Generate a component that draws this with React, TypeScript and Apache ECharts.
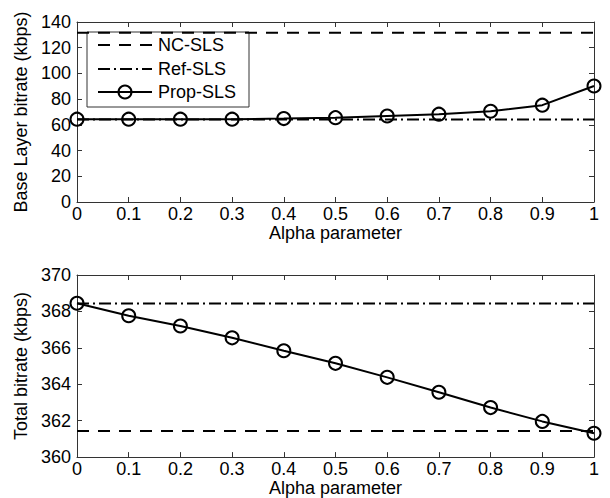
import React, { useEffect, useRef } from "react";
import * as echarts from "echarts";

const alphas = [0, 0.1, 0.2, 0.3, 0.4, 0.5, 0.6, 0.7, 0.8, 0.9, 1];
const propBase = [64.4, 64.4, 64.4, 64.4, 64.9, 65.6, 66.9, 68.3, 70.6, 75.3, 90.2];
const propTotal = [368.45, 367.76, 367.2, 366.55, 365.84, 365.15, 364.38, 363.56, 362.72, 361.96, 361.31];
const ncBase = 131.6;
const refBase = 64.2;
const ncTotal = 361.43;
const refTotal = 368.44;
const legendNames = ["NC-SLS", "Ref-SLS", "Prop-SLS"];

const FONT = "'Liberation Sans', Arial, Helvetica, sans-serif";
const AX = "#333";
const DASH = [12, 9];
const DASHDOT = [12, 4, 2, 4];

const fmtX = (v: number) => String(Math.round(v * 10) / 10);

function xAxes(gridIndex: number) {
  const base = {
    type: "value",
    gridIndex,
    min: 0,
    max: 1,
    interval: 0.1,
    splitLine: { show: false },
    axisLine: { show: true, onZero: false, lineStyle: { color: AX, width: 1 } },
    axisTick: { show: true, inside: true, length: 5, lineStyle: { color: AX } },
  };
  return [
    {
      ...base,
      position: "bottom",
      name: "Alpha parameter",
      nameLocation: "middle",
      nameGap: 19,
      nameTextStyle: { color: "#000", fontSize: 18, fontFamily: FONT },
      axisLabel: { color: "#000", fontSize: 18, fontFamily: FONT, margin: 3, formatter: fmtX },
    },
    { ...base, position: "top", axisLabel: { show: false } },
  ];
}

function yAxes(gridIndex: number, min: number, max: number, interval: number, name: string) {
  const base = {
    type: "value",
    gridIndex,
    min,
    max,
    interval,
    splitLine: { show: false },
    axisLine: { show: true, onZero: false, lineStyle: { color: AX, width: 1 } },
    axisTick: { show: true, inside: true, length: 5, lineStyle: { color: AX } },
  };
  return [
    {
      ...base,
      position: "left",
      name,
      nameLocation: "middle",
      nameGap: 46,
      nameTextStyle: { color: "#000", fontSize: 18, fontFamily: FONT },
      axisLabel: { color: "#000", fontSize: 18, fontFamily: FONT, margin: 6 },
    },
    { ...base, position: "right", axisLabel: { show: false } },
  ];
}

function hLine(name: string, v: number, xi: number, yi: number, dash: number[]) {
  return {
    name,
    type: "line",
    xAxisIndex: xi,
    yAxisIndex: yi,
    data: [
      [alphas[0], v],
      [alphas[alphas.length - 1], v],
    ],
    symbol: "none",
    lineStyle: { color: "#000", width: 2, type: dash },
    z: 3,
  };
}

function propSeries(vals: number[], xi: number, yi: number) {
  return {
    name: legendNames[2],
    type: "line",
    xAxisIndex: xi,
    yAxisIndex: yi,
    data: alphas.map((a, i) => [a, vals[i]]),
    symbol: "circle",
    symbolSize: 13,
    clip: false,
    lineStyle: { color: "#000", width: 2 },
    itemStyle: { color: "rgba(0,0,0,0)", borderColor: "#000", borderWidth: 2 },
    z: 4,
  };
}

export default function App() {
  const ref = useRef<HTMLDivElement>(null);
  useEffect(() => {
    if (!ref.current) return;
    const chart = echarts.init(ref.current, null, { renderer: "svg" });
    const lx = 87, ly = 32, lw = 162, lh = 75;
    const rows = [45, 69, 92];
    const s0 = 98, s1 = 152;
    chart.setOption({
      animation: false,
      backgroundColor: "#fff",
      grid: [
        { left: 77, top: 22, width: 517, height: 180 },
        { left: 77, top: 275, width: 517, height: 183 },
      ],
      xAxis: [...xAxes(0), ...xAxes(1)],
      yAxis: [
        ...yAxes(0, 0, 140, 20, "Base Layer bitrate (kbps)"),
        ...yAxes(1, 360, 370, 2, "Total bitrate (kbps)"),
      ],
      series: [
        hLine(legendNames[0], ncBase, 0, 0, DASH),
        hLine(legendNames[1], refBase, 0, 0, DASHDOT),
        propSeries(propBase, 0, 0),
        hLine(legendNames[0], ncTotal, 2, 2, DASH),
        hLine(legendNames[1], refTotal, 2, 2, DASHDOT),
        propSeries(propTotal, 2, 2),
      ],
      graphic: [
        {
          type: "group",
          z: 100,
          children: [
            {
              type: "rect",
              shape: { x: lx, y: ly, width: lw, height: lh },
              style: { fill: "#fff", stroke: AX, lineWidth: 1 },
            },
            {
              type: "line",
              shape: { x1: s0, y1: rows[0], x2: s1, y2: rows[0] },
              style: { stroke: "#000", lineWidth: 2, lineDash: DASH },
            },
            {
              type: "line",
              shape: { x1: s0, y1: rows[1], x2: s1, y2: rows[1] },
              style: { stroke: "#000", lineWidth: 2, lineDash: DASHDOT },
            },
            {
              type: "line",
              shape: { x1: s0, y1: rows[2], x2: s1, y2: rows[2] },
              style: { stroke: "#000", lineWidth: 2 },
            },
            {
              type: "circle",
              shape: { cx: (s0 + s1) / 2, cy: rows[2], r: 6.5 },
              style: { fill: "rgba(0,0,0,0)", stroke: "#000", lineWidth: 2 },
            },
            ...legendNames.map((n, i) => ({
              type: "text",
              x: 158,
              y: rows[i],
              style: {
                text: n,
                fill: "#000",
                fontSize: 18,
                fontFamily: FONT,
                verticalAlign: "middle",
                align: "left",
              },
            })),
          ],
        },
      ],
    });
    return () => chart.dispose();
  }, []);
  return (
    <div
      ref={ref}
      style={{ position: "fixed", left: 0, top: 0, width: 610, height: 498, background: "#fff" }}
    />
  );
}
